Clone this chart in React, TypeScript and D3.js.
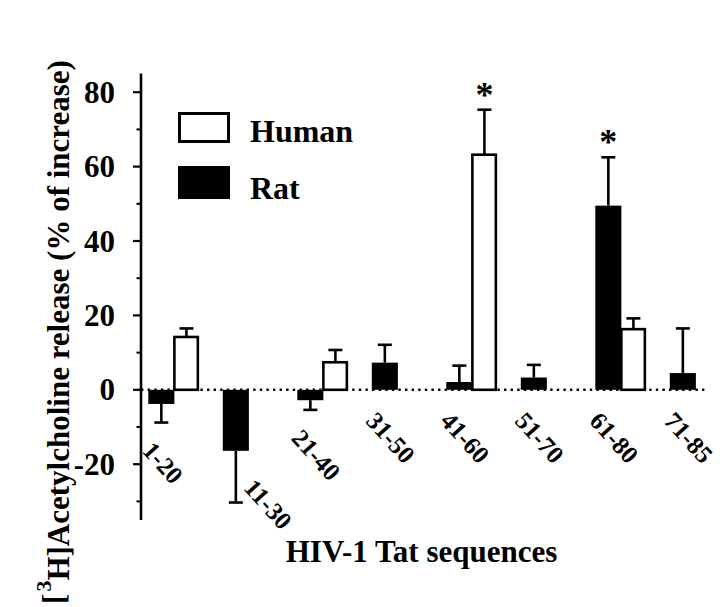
import * as d3 from "d3";

// values (% of increase)
const categories = ["1-20", "11-30", "21-40", "31-50", "41-60", "51-70", "61-80", "71-85"];
const ratValues = [-3.8, -16.4, -2.8, 7.3, 2.1, 3.3, 49.5, 4.5];
const ratErrors = [5.0, 13.9, 2.6, 4.8, 4.4, 3.4, 13.0, 12.0];
const humanValues: (number | null)[] = [14.2, null, 7.4, null, 63.2, null, 16.3, null];
const humanErrors: (number | null)[] = [2.3, null, 3.3, null, 12.1, null, 2.9, null];
const ratStars = ["61-80"];
const humanStars = ["41-60"];
const series = ["Rat", "Human"];
const yMajorTicks = [-20, 0, 20, 40, 60, 80];
const yMinorTicks = [-30, -10, 10, 30, 50, 70];

const W = 720;
const H = 607;
const FONT = "'Liberation Serif', 'Times New Roman', serif";
const SW = 2.6; // stroke width used everywhere

export default function App() {
  const axisX = 141;
  const y = d3.scaleLinear().domain([-35, 85]).range([520, 73.6]);
  const x = d3
    .scaleBand<string>()
    .domain(categories)
    .range([148.3, 148.3 + 74.5 * 7.7])
    .paddingInner(0.3)
    .paddingOuter(0);
  const sub = d3.scaleBand<string>().domain(series).range([0, x.bandwidth()]);
  const y0 = y(0);

  const errBar = (cx: number, v: number, e: number, key: string) => {
    const end = y(v >= 0 ? v + e : v - e);
    return (
      <g key={key} stroke="#000" strokeWidth={SW}>
        <line x1={cx} x2={cx} y1={y(v)} y2={end} />
        <line x1={cx - 7} x2={cx + 7} y1={end} y2={end} />
      </g>
    );
  };

  return (
    <svg
      width={W}
      height={H}
      style={{ position: "absolute", left: 0, top: 0, background: "#fff" }}
      fontFamily={FONT}
      fontWeight="bold"
    >
      {/* zero line */}
      <line
        x1={axisX}
        x2={705}
        y1={y0}
        y2={y0}
        stroke="#000"
        strokeWidth={2.4}
        strokeDasharray="2.4 4.2"
      />

      {/* bars */}
      {categories.map((c, i) => {
        const rx = (x(c) as number) + (sub("Rat") as number);
        const hx = (x(c) as number) + (sub("Human") as number);
        const bw = sub.bandwidth();
        const rv = ratValues[i];
        const hv = humanValues[i];
        const he = humanErrors[i];
        return (
          <g key={c}>
            {errBar(rx + bw / 2, rv, ratErrors[i], "re")}
            <rect
              x={rx}
              y={Math.min(y(rv), y0)}
              width={bw}
              height={Math.abs(y(rv) - y0)}
              fill="#000"
            />
            {hv != null && he != null && errBar(hx + bw / 2 - 1, hv, he, "he")}
            {hv != null && (
              <rect
                x={hx}
                y={Math.min(y(hv), y0)}
                width={bw - SW}
                height={Math.abs(y(hv) - y0)}
                fill="#fff"
                stroke="#000"
                strokeWidth={SW}
              />
            )}
            {ratStars.includes(c) && (
              <text x={rx + bw / 2} y={y(rv + ratErrors[i]) - 3} textAnchor="middle" fontSize={36}>
                *
              </text>
            )}
            {hv != null && he != null && humanStars.includes(c) && (
              <text x={hx + bw / 2 - 1} y={y(hv + he) - 3} textAnchor="middle" fontSize={36}>
                *
              </text>
            )}
          </g>
        );
      })}

      {/* category labels, placed under the lowest mark of each group */}
      {categories.map((c, i) => {
        const rx = (x(c) as number) + (sub("Rat") as number);
        const bw = sub.bandwidth();
        const low = ratValues[i] < 0 ? y(ratValues[i] - ratErrors[i]) : y0;
        let top = Math.max(y0 + 20, low + 17);
        let lx = rx - 7;
        if (top > y0 + 60) {
          top = y(ratValues[i]) + 26;
          lx = rx + bw / 2 + 7;
        }
        return (
          <text
            key={c}
            transform={`translate(${lx},${top + 12}) rotate(48)`}
            fontSize={25}
          >
            {c}
          </text>
        );
      })}

      {/* y axis */}
      <line x1={axisX} x2={axisX} y1={73.6} y2={520} stroke="#000" strokeWidth={SW} />
      {yMinorTicks.map((t) => (
        <line key={t} x1={axisX - 4.5} x2={axisX} y1={y(t)} y2={y(t)} stroke="#000" strokeWidth={2} />
      ))}
      {yMajorTicks.map((t) => (
        <g key={t}>
          <line x1={axisX - 8} x2={axisX} y1={y(t)} y2={y(t)} stroke="#000" strokeWidth={2.2} />
          <text x={115} y={y(t)} dy="0.34em" textAnchor="end" fontSize={31}>
            {t}
          </text>
        </g>
      ))}

      {/* legend */}
      <rect x={179.5} y={113.5} width={49} height={28} fill="#fff" stroke="#000" strokeWidth={3} />
      <text x={250} y={142} fontSize={32}>Human</text>
      <rect x={178} y={166} width={52} height={33} fill="#000" />
      <text x={250} y={199} fontSize={32}>Rat</text>

      {/* axis titles */}
      <text x={421.5} y={562} textAnchor="middle" fontSize={31}>
        HIV-1 Tat sequences
      </text>
      <text transform="translate(64,332) rotate(-90)" textAnchor="middle" fontSize={31}>
        [<tspan dx="2" dy="-0.6em" fontSize={22}>3</tspan>
        <tspan dy="0.6em">H]Acetylcholine release (% of increase)</tspan>
      </text>
    </svg>
  );
}
